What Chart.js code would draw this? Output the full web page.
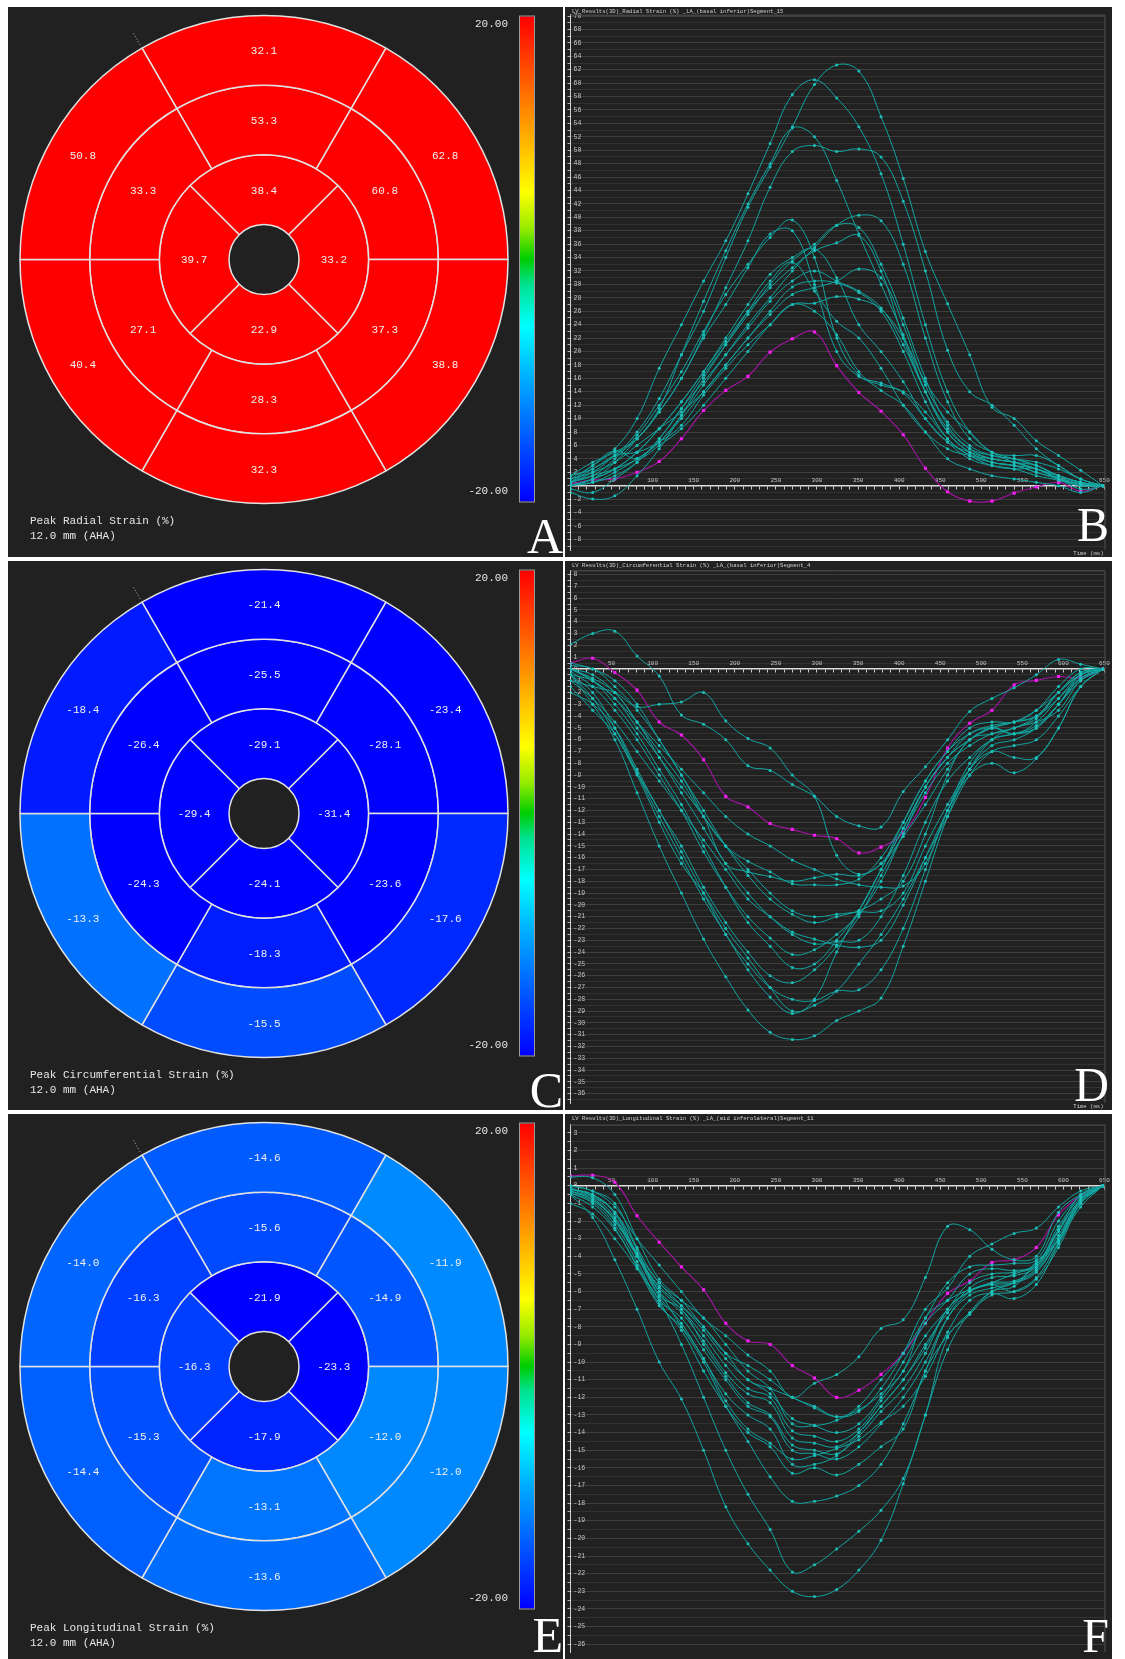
<!doctype html>
<html lang="en">
<head>
<meta charset="utf-8">
<title>Peak strain bullseyes and strain curves</title>
<script src="https://cdn.jsdelivr.net/npm/chart.js@4.4.1/dist/chart.umd.min.js"></script>
<style>
  html, body { margin: 0; padding: 0; background: #ffffff; }
  body { position: relative; width: 1125px; height: 1659px; overflow: hidden; }
  .panel { position: absolute; background: #212121; overflow: hidden; }
  .panel canvas { position: absolute; left: 0; top: 0; }
</style>
</head>
<body>
<div class="panel" style="left:8px; top:7px; width:555px; height:550px;"><canvas id="bullA" width="555" height="550"></canvas></div>
<div class="panel" style="left:565px; top:7px; width:547px; height:550px;"><canvas id="lineB" width="547" height="550"></canvas></div>
<div class="panel" style="left:8px; top:561px; width:555px; height:549px;"><canvas id="bullC" width="555" height="549"></canvas></div>
<div class="panel" style="left:565px; top:561px; width:547px; height:549px;"><canvas id="lineD" width="547" height="549"></canvas></div>
<div class="panel" style="left:8px; top:1114px; width:555px; height:545px;"><canvas id="bullE" width="555" height="545"></canvas></div>
<div class="panel" style="left:565px; top:1114px; width:547px; height:545px;"><canvas id="lineF" width="547" height="545"></canvas></div>

<script>
// bullseye segments: outer/mid rings go top, upper right, lower right, bottom, lower left, upper left
// apical ring goes top, right, bottom, left
var radialBasal = [32.1, 62.8, 38.8, 32.3, 40.4, 50.8];
var radialMid = [53.3, 60.8, 37.3, 28.3, 27.1, 33.3];
var radialApical = [38.4, 33.2, 22.9, 39.7];

var circBasal = [-21.4, -23.4, -17.6, -15.5, -13.3, -18.4];
var circMid = [-25.5, -28.1, -23.6, -18.3, -24.3, -26.4];
var circApical = [-29.1, -31.4, -24.1, -29.4];

var longBasal = [-14.6, -11.9, -12.0, -13.6, -14.4, -14.0];
var longMid = [-15.6, -14.9, -12.0, -13.1, -15.3, -16.3];
var longApical = [-21.9, -23.3, -17.9, -16.3];

var colorbarTicks = [20, -20];

// frame times (ms)
var times = [0, 27, 54, 81, 108, 135, 162, 189, 216, 243, 270, 297, 324, 351, 378, 405, 432, 459, 486, 513, 540, 567, 594, 621, 648];

var radialTeal = [
  [1.0, 3.0, 5.5, 10.0, 17.5, 24.0, 30.5, 36.5, 43.5, 51.0, 58.3, 60.5, 57.8, 53.5, 46.5, 36.0, 24.0, 14.0, 8.0, 5.0, 3.5, 2.5, 1.5, 0.5, 0],
  [0.5, 2.5, 4.5, 8.0, 13.0, 19.5, 26.0, 34.0, 41.5, 47.5, 53.5, 59.8, 62.7, 61.8, 55.0, 45.8, 34.9, 27.1, 19.5, 11.7, 10.0, 6.7, 4.5, 2.3, 0],
  [0.5, 2.0, 4.5, 7.0, 11.5, 19.5, 27.5, 35.0, 42.0, 48.0, 53.3, 52.0, 45.5, 37.5, 30.0, 22.5, 14.0, 8.0, 5.0, 3.5, 3.0, 2.5, 1.2, 0.3, 0],
  [1.5, 3.5, 5.0, 7.0, 11.0, 16.0, 22.5, 29.5, 36.5, 44.5, 49.8, 50.7, 49.8, 50.2, 49.0, 42.4, 32.0, 20.2, 14.0, 12.0, 9.0, 5.5, 3.0, 1.0, 0],
  [0.5, 1.5, 4.0, 7.5, 12.0, 17.0, 23.0, 28.5, 33.0, 37.0, 39.6, 34.0, 22.0, 16.5, 15.0, 14.0, 11.0, 7.0, 4.5, 3.5, 3.0, 2.0, 1.0, 0.3, 0],
  [0.0, 1.0, 3.5, 7.0, 11.0, 16.0, 22.0, 27.0, 32.5, 37.5, 38.0, 30.0, 20.0, 16.3, 15.3, 13.8, 10.0, 6.5, 4.0, 3.0, 2.5, 1.5, 0.8, 0.0, 0],
  [0.0, 0.5, 2.0, 4.0, 6.5, 10.5, 15.0, 19.5, 24.0, 28.0, 32.0, 35.5, 38.8, 40.3, 39.5, 33.0, 22.0, 12.5, 7.0, 5.0, 4.0, 3.0, 1.5, 0.5, 0],
  [-0.5, -1.0, 1.0, 3.5, 7.0, 11.5, 16.5, 21.0, 25.5, 30.0, 33.5, 36.0, 38.8, 38.5, 33.0, 25.0, 16.0, 9.0, 5.5, 4.0, 3.5, 2.5, 1.0, 0.2, 0],
  [0.0, 1.0, 2.5, 5.0, 8.5, 12.5, 17.0, 21.5, 26.0, 29.5, 32.5, 35.0, 36.2, 37.3, 32.0, 22.0, 14.0, 8.0, 5.0, 3.5, 3.0, 2.0, 1.0, -0.5, 0],
  [-1.0, -2.0, -1.5, 1.5, 5.5, 10.5, 16.0, 21.0, 26.0, 30.5, 33.3, 29.0, 24.5, 22.0, 17.5, 12.0, 8.0, 5.5, 4.5, 4.0, 3.5, 3.0, 1.5, 0.5, 0],
  [0.5, 1.5, 2.5, 4.0, 6.5, 10.0, 14.0, 18.0, 22.0, 25.5, 28.5, 29.5, 30.5, 32.3, 31.0, 24.0, 15.0, 9.5, 6.0, 4.5, 4.0, 3.0, 1.5, 0.5, 0],
  [0.0, 0.5, 1.5, 3.5, 7.0, 11.5, 15.5, 19.5, 23.5, 27.5, 30.5, 32.0, 30.5, 29.0, 26.5, 21.0, 14.0, 8.5, 5.5, 4.5, 4.0, 3.5, 2.5, 1.0, 0],
  [1.5, 2.5, 4.5, 5.0, 6.5, 9.0, 13.5, 17.5, 21.0, 24.0, 27.0, 27.2, 28.2, 27.8, 26.3, 22.0, 15.5, 11.0, 8.0, 5.0, 4.5, 4.5, 3.0, 1.0, 0],
  [0.5, 3.0, 5.2, 4.0, 6.0, 8.5, 12.0, 16.0, 20.0, 24.0, 27.0, 26.0, 22.5, 17.0, 14.2, 12.0, 8.0, 4.0, 2.5, 1.5, 1.0, 0.5, 0.0, -1.0, 0],
  [0.0, 1.0, 2.5, 5.0, 8.5, 12.5, 17.0, 22.0, 27.0, 31.5, 34.0, 35.3, 31.0, 24.0, 20.0, 15.5, 10.0, 6.5, 5.0, 4.0, 3.5, 2.5, 1.5, 0.5, 0],
  [1.0, 2.0, 3.5, 6.0, 8.5, 11.0, 14.0, 18.0, 22.0, 26.0, 29.6, 30.5, 30.2, 28.8, 26.0, 20.0, 12.5, 7.0, 4.5, 3.0, 2.5, 2.5, 1.0, 0.0, 0]
];
var radialMagenta = [0.3, 0.85, 1.0, 2.0, 3.6, 7.0, 11.2, 14.2, 16.3, 19.9, 21.9, 22.9, 17.9, 13.9, 11.1, 7.6, 2.6, -0.9, -2.3, -2.3, -1.1, -0.2, 0.5, -0.8, 0];

var circTeal = [
  [2.1, 3.0, 3.2, 1.1, -0.6, -3.9, -4.7, -6.0, -8.2, -8.6, -9.8, -10.8, -12.5, -13.3, -13.4, -10.4, -8.3, -6.0, -3.6, -2.5, -1.6, -0.5, 0.8, 0.4, 0],
  [-1.0, -1.5, -2.0, -3.2, -3.0, -2.8, -2.0, -4.4, -5.9, -6.7, -9.0, -10.8, -15.8, -17.4, -16.5, -14.2, -11.5, -8.5, -6.0, -5.0, -4.5, -3.5, -2.0, -0.5, 0],
  [0.3, 0.0, -1.5, -3.5, -6.0, -9.0, -12.5, -16.5, -17.2, -17.6, -18.0, -17.7, -17.4, -17.5, -16.5, -13.5, -10.0, -7.5, -6.0, -5.0, -4.5, -4.0, -2.5, -0.8, 0],
  [0.0, -0.8, -2.0, -4.5, -7.0, -9.5, -12.5, -15.0, -16.3, -17.2, -18.2, -18.3, -18.3, -17.8, -16.0, -13.0, -9.5, -7.0, -5.5, -5.0, -5.5, -4.5, -2.5, -0.5, 0],
  [-0.5, -1.0, -2.5, -4.5, -6.5, -8.5, -10.5, -12.5, -14.0, -15.0, -16.2, -17.0, -17.8, -18.3, -18.5, -18.4, -16.5, -12.0, -9.0, -8.0, -8.8, -7.6, -5.0, -1.5, 0],
  [0.0, -1.0, -2.5, -5.0, -7.5, -10.0, -12.5, -15.0, -17.0, -19.0, -20.5, -21.0, -20.8, -20.6, -20.5, -19.0, -15.0, -11.5, -8.5, -7.0, -7.5, -7.5, -5.0, -1.5, 0],
  [0.5, 0.0, -1.0, -3.0, -6.0, -9.0, -12.0, -15.0, -17.5, -19.5, -20.8, -21.5, -21.0, -20.5, -19.5, -18.0, -14.0, -9.0, -6.0, -5.5, -5.0, -4.0, -2.0, -0.5, 0],
  [0.0, -0.5, -2.0, -4.5, -7.5, -10.5, -13.5, -16.5, -19.0, -21.0, -22.5, -23.3, -23.1, -23.0, -21.0, -17.5, -13.0, -9.5, -7.5, -6.0, -5.5, -5.0, -3.0, -0.8, 0],
  [-1.0, -2.5, -4.5, -7.0, -9.5, -12.0, -14.5, -17.0, -19.5, -21.0, -22.3, -22.9, -23.4, -23.6, -23.0, -20.0, -16.0, -12.0, -8.5, -6.5, -6.0, -5.0, -3.0, -0.5, 0],
  [-0.2, -1.5, -3.5, -6.0, -9.0, -12.0, -15.5, -18.5, -21.0, -22.8, -24.2, -23.8, -22.5, -20.8, -18.0, -14.0, -10.5, -8.0, -6.5, -5.5, -5.0, -4.2, -2.0, -0.3, 0],
  [0.0, -1.0, -3.0, -5.5, -8.5, -11.5, -15.0, -18.5, -21.5, -23.5, -25.3, -25.0, -23.0, -20.5, -17.0, -13.0, -9.5, -7.0, -5.0, -4.5, -4.5, -3.5, -1.5, 0.0, 0],
  [-2.0, -3.0, -5.0, -8.5, -12.0, -15.0, -18.5, -21.5, -24.0, -26.0, -26.6, -25.5, -23.5, -21.0, -17.5, -14.0, -10.0, -7.5, -6.0, -5.0, -5.5, -5.0, -3.0, -0.8, 0],
  [-1.5, -3.5, -5.5, -8.8, -12.0, -15.5, -19.0, -22.5, -25.0, -27.0, -28.0, -28.1, -27.3, -27.2, -25.5, -22.0, -17.0, -12.0, -8.0, -6.0, -5.5, -4.8, -3.0, -1.0, 0],
  [-0.5, -2.0, -5.0, -8.8, -12.5, -16.0, -19.5, -22.5, -25.5, -27.8, -29.2, -28.0, -24.0, -20.5, -17.0, -13.5, -10.0, -7.5, -5.5, -4.8, -4.5, -4.0, -2.0, -0.3, 0],
  [-0.5, -2.5, -5.5, -9.0, -13.0, -16.5, -19.0, -22.0, -24.5, -27.0, -29.0, -28.5, -27.3, -25.0, -22.5, -19.5, -16.0, -12.5, -9.0, -7.0, -6.5, -6.0, -4.0, -1.5, 0],
  [-0.5, -3.0, -6.0, -10.5, -15.0, -19.0, -22.9, -26.1, -28.9, -30.8, -31.4, -31.1, -29.8, -29.0, -27.9, -23.5, -18.0, -12.5, -8.5, -6.0, -5.0, -4.5, -3.5, -1.0, 0]
];
var circMagenta = [0.5, 0.9, -0.3, -1.8, -4.5, -5.6, -7.7, -10.8, -11.7, -13.1, -13.6, -14.1, -14.4, -15.6, -15.1, -13.9, -10.9, -6.7, -4.6, -3.5, -1.35, -0.97, -0.64, -0.76, 0];

var longTeal = [
  [-0.5, -1.8, -4.2, -7.0, -10.0, -12.1, -15.0, -18.2, -20.3, -21.8, -23.0, -23.3, -22.9, -21.8, -20.1, -16.9, -13.0, -9.3, -7.2, -6.0, -5.7, -4.3, -3.1, -0.8, 0],
  [-1.0, -1.6, -3.0, -4.7, -6.5, -9.0, -12.0, -15.0, -17.5, -19.5, -21.9, -21.5, -20.6, -19.6, -18.4, -16.6, -13.0, -8.6, -7.3, -6.0, -5.5, -4.5, -3.0, -0.8, 0],
  [-0.3, -0.8, -2.0, -4.0, -6.0, -8.0, -10.0, -12.5, -14.5, -16.5, -17.9, -17.9, -17.6, -17.0, -15.8, -13.5, -10.5, -7.5, -6.0, -5.5, -5.0, -4.5, -2.5, -0.5, 0],
  [0.0, -0.3, -1.2, -3.0, -4.5, -6.0, -7.5, -8.5, -9.6, -10.5, -12.0, -11.2, -10.7, -9.7, -8.1, -7.6, -5.2, -2.3, -2.5, -3.6, -4.2, -4.0, -1.5, -0.5, 0],
  [0.5, 0.45, -0.5, -3.0, -5.3, -6.5, -8.0, -9.5, -10.2, -11.0, -12.0, -12.5, -13.1, -12.8, -11.5, -9.5, -7.0, -5.8, -4.0, -3.3, -2.7, -2.4, -1.2, -0.3, 0],
  [0.0, -0.3, -1.0, -3.5, -5.5, -6.5, -7.5, -9.0, -10.5, -11.5, -13.5, -13.6, -13.3, -12.5, -11.0, -9.5, -7.5, -5.5, -4.6, -4.5, -4.4, -4.2, -2.0, -0.6, 0],
  [-0.2, -0.5, -1.5, -3.8, -5.5, -6.8, -8.2, -9.8, -11.0, -11.8, -13.2, -13.6, -14.0, -13.5, -12.0, -10.0, -7.8, -6.5, -5.0, -4.7, -4.8, -4.5, -2.3, -0.7, 0],
  [-0.1, -0.6, -1.8, -3.9, -5.8, -7.0, -8.5, -10.2, -11.5, -12.0, -13.9, -14.2, -14.5, -13.8, -12.2, -10.5, -8.5, -7.0, -5.5, -5.0, -4.9, -4.4, -2.5, -0.8, 0],
  [-0.3, -0.7, -2.0, -4.0, -6.0, -7.2, -8.8, -10.6, -11.8, -12.3, -14.3, -14.6, -14.8, -14.0, -12.5, -11.0, -9.0, -7.2, -5.8, -5.2, -5.1, -4.6, -2.6, -0.8, 0],
  [-0.2, -0.6, -1.5, -3.6, -6.2, -7.0, -9.0, -10.8, -12.3, -13.0, -14.7, -15.0, -15.2, -14.2, -12.8, -11.5, -9.5, -7.0, -6.0, -5.5, -5.4, -4.7, -2.8, -0.9, 0],
  [-0.4, -0.9, -2.2, -4.3, -6.5, -7.5, -9.3, -11.0, -12.5, -13.1, -15.0, -15.2, -15.5, -14.8, -13.5, -12.0, -10.0, -7.5, -6.2, -5.8, -5.5, -4.8, -3.0, -1.0, 0],
  [-0.3, -0.8, -1.9, -4.0, -6.3, -7.8, -9.8, -11.8, -13.0, -13.8, -15.8, -15.8, -15.3, -14.0, -12.5, -11.0, -9.2, -7.0, -6.0, -5.6, -5.5, -4.9, -3.0, -0.8, 0],
  [-0.5, -1.2, -2.5, -4.5, -6.7, -8.2, -10.5, -12.5, -14.0, -14.8, -16.3, -16.0, -16.4, -15.8, -14.8, -13.8, -10.5, -8.5, -7.2, -6.2, -6.0, -5.2, -3.2, -1.0, 0],
  [-0.2, -0.5, -1.6, -3.9, -5.7, -6.8, -8.0, -9.5, -11.0, -11.5, -12.0, -12.6, -13.1, -12.7, -11.8, -10.5, -7.5, -6.5, -5.9, -5.6, -6.0, -5.3, -3.5, -1.0, 0],
  [-0.4, -1.0, -2.4, -4.6, -6.8, -8.0, -9.8, -12.2, -13.8, -14.6, -15.5, -15.3, -14.9, -14.4, -13.4, -12.5, -10.8, -8.3, -6.5, -6.1, -6.4, -5.6, -3.3, -1.2, 0]
];
var longMagenta = [0.55, 0.6, 0.2, -1.7, -3.2, -4.6, -5.9, -7.8, -8.8, -9.0, -10.2, -10.9, -12.0, -11.6, -10.7, -9.5, -7.8, -6.1, -5.4, -4.35, -4.2, -3.5, -1.65, -0.55, 0];

// colour map of the bullseye, value -> rgb
var cmapStops = [
  [-20, [0, 0, 255]], [-10, [0, 170, 255]], [-5.5, [0, 255, 255]], [-2, [0, 225, 140]],
  [0, [0, 205, 0]], [2.5, [150, 235, 0]], [5.5, [255, 255, 0]], [12, [255, 140, 0]], [20, [255, 0, 0]]
];

function strainColor(v) {
  v = Math.max(-20, Math.min(20, v));
  for (var i = 1; i < cmapStops.length; i++) {
    var a = cmapStops[i - 1], b = cmapStops[i];
    if (v <= b[0]) {
      var f = (v - a[0]) / (b[0] - a[0]);
      var c = a[1].map(function (x, k) { return Math.round(x + (b[1][k] - x) * f); });
      return 'rgb(' + c.join(',') + ')';
    }
  }
  return 'rgb(255,0,0)';
}

var monoFont = '"Liberation Mono", "DejaVu Sans Mono", monospace';
var serifFont = '"Liberation Serif", "DejaVu Serif", serif';

// values, colour bar, caption and panel letter
var bullseyeDeco = {
  id: 'bullseyeDeco',
  afterDraw: function (chart, args, opts) {
    var ctx = chart.ctx;
    ctx.save();
    ctx.font = '11px ' + monoFont;
    ctx.fillStyle = '#f0f0f0';
    ctx.textAlign = 'center';
    ctx.textBaseline = 'middle';
    chart.data.datasets.forEach(function (ds, i) {
      chart.getDatasetMeta(i).data.forEach(function (arc, j) {
        var p = arc.tooltipPosition();
        ctx.fillText(ds.values[j].toFixed(1), p.x, p.y + 1);
      });
    });

    // little dotted marker outside the ring
    var arc0 = chart.getDatasetMeta(0).data[0];
    var a = -Math.PI * 2 / 3;
    ctx.strokeStyle = '#bdbdbd';
    ctx.lineWidth = 1;
    ctx.setLineDash([1, 2]);
    ctx.beginPath();
    ctx.moveTo(arc0.x + Math.cos(a) * 248, arc0.y + Math.sin(a) * 248);
    ctx.lineTo(arc0.x + Math.cos(a) * 262, arc0.y + Math.sin(a) * 262);
    ctx.stroke();
    ctx.setLineDash([]);

    // colour bar
    var bx = 512, by = 9.5, bw = 14, bh = 485;
    var top = colorbarTicks[0], bottom = colorbarTicks[1];
    var g = ctx.createLinearGradient(0, by, 0, by + bh);
    cmapStops.forEach(function (s) {
      g.addColorStop((top - s[0]) / (top - bottom), 'rgb(' + s[1].join(',') + ')');
    });
    ctx.fillStyle = g;
    ctx.fillRect(bx, by, bw, bh);
    ctx.strokeStyle = '#9a9a9a';
    ctx.strokeRect(bx - 0.5, by - 0.5, bw + 1, bh + 1);

    ctx.fillStyle = '#e6e6e6';
    ctx.font = '11px ' + monoFont;
    ctx.textAlign = 'right';
    ctx.fillText(top.toFixed(2), 500, 17);
    ctx.fillText(bottom.toFixed(2), 500, 484);

    ctx.textAlign = 'left';
    ctx.fillText(opts.caption, 22, 514);
    ctx.fillText('12.0 mm (AHA)', 22, 529.5);

    ctx.font = '50px ' + serifFont;
    ctx.fillStyle = '#ffffff';
    ctx.textAlign = 'right';
    ctx.textBaseline = 'alphabetic';
    ctx.fillText(opts.letter, 555, opts.letterY);
    ctx.restore();
  }
};

function bullseye(id, basal, mid, apical, caption, letter, letterY) {
  var canvas = document.getElementById(id);
  var h = canvas.height;
  function ring(vals, rot) {
    return {
      data: vals.map(function () { return 1; }),
      values: vals,
      backgroundColor: vals.map(strainColor),
      borderColor: '#e2e2e2',
      borderWidth: 1.5,
      rotation: rot
    };
  }
  new Chart(canvas, {
    type: 'doughnut',
    data: { datasets: [ring(basal, -30), ring(mid, -30), ring(apical, -45)] },
    options: {
      responsive: false,
      animation: false,
      events: [],
      cutout: 35,
      layout: { padding: { left: 11.25, top: 7.75, right: 54.25, bottom: h - 497.25 } },
      plugins: {
        legend: { display: false },
        tooltip: { enabled: false },
        bullseyeDeco: { caption: caption, letter: letter, letterY: letterY }
      }
    },
    plugins: [bullseyeDeco]
  });
}

// title, plot frame, time label and panel letter
var curveDeco = {
  id: 'curveDeco',
  afterDraw: function (chart, args, opts) {
    var ctx = chart.ctx, area = chart.chartArea;
    ctx.save();
    ctx.strokeStyle = '#555555';
    ctx.lineWidth = 1;
    ctx.beginPath();
    ctx.moveTo(area.left, area.top + 0.5);
    ctx.lineTo(area.right + 0.5, area.top + 0.5);
    ctx.lineTo(area.right + 0.5, area.bottom);
    ctx.stroke();

    ctx.fillStyle = '#d0d0d0';
    ctx.font = '5.6px ' + monoFont;
    ctx.textAlign = 'left';
    ctx.textBaseline = 'middle';
    ctx.fillText(opts.title, 7, 5);

    if (opts.timeLabel) {
      ctx.textAlign = 'right';
      ctx.fillText('Time (ms)', area.right - 1, chart.height - 3);
    }

    ctx.font = '48px ' + serifFont;
    ctx.fillStyle = '#ffffff';
    ctx.textAlign = 'right';
    ctx.textBaseline = 'alphabetic';
    ctx.fillText(opts.letter, 544, opts.letterY);
    ctx.restore();
  }
};

function strainCurves(id, o) {
  function onLabel(v) {
    var q = v / o.labelStep;
    return Math.abs(q - Math.round(q)) < 1e-6;
  }
  var datasets = o.teal.map(function (vals) {
    return {
      data: vals.map(function (v, i) { return { x: times[i], y: v }; }),
      borderColor: 'rgb(18,165,160)',
      borderWidth: 1,
      pointRadius: 1.5,
      pointBackgroundColor: 'rgb(30,190,184)',
      pointBorderWidth: 0,
      tension: 0.4
    };
  });
  datasets.push({
    data: o.magenta.map(function (v, i) { return { x: times[i], y: v }; }),
    borderColor: 'rgb(165,20,165)',
    borderWidth: 1.1,
    pointRadius: 2.2,
    pointStyle: 'rect',
    pointBackgroundColor: 'rgb(245,30,245)',
    pointBorderWidth: 0,
    tension: 0.4
  });

  new Chart(document.getElementById(id), {
    type: 'line',
    data: { datasets: datasets },
    options: {
      responsive: false,
      animation: false,
      events: [],
      layout: { autoPadding: false, padding: { left: 5.5, right: 7.5, top: o.top, bottom: o.bottom } },
      plugins: {
        legend: { display: false },
        tooltip: { enabled: false },
        curveDeco: { title: o.title, letter: o.letter, letterY: o.letterY, timeLabel: o.timeLabel }
      },
      scales: {
        x: {
          type: 'linear',
          min: 0,
          max: 650,
          position: { y: 0 },
          border: { color: '#dcdcdc', width: 1.5 },
          grid: { drawOnChartArea: false, drawTicks: true, tickLength: 3, tickColor: '#cfcfcf' },
          ticks: {
            stepSize: 10,
            autoSkip: false,
            maxRotation: 0,
            padding: -12,
            color: '#c8c8c8',
            font: { size: 6, family: monoFont },
            callback: function (v) { return (v > 0 && v % 50 === 0) ? String(v) : ''; }
          }
        },
        y: {
          min: o.min,
          max: o.max,
          border: { color: '#cfcfcf', width: 1 },
          grid: {
            color: function (c) { return c.tick && onLabel(c.tick.value) ? '#3e3e3e' : '#323232'; },
            tickLength: 3,
            tickColor: '#b0b0b0'
          },
          ticks: {
            stepSize: o.gridStep,
            includeBounds: false,
            autoSkip: false,
            mirror: true,
            padding: 3,
            color: '#c4c4c4',
            font: { size: 6.5, family: monoFont },
            callback: function (v) { return onLabel(v) ? String(Math.round(v)) : ''; }
          },
          afterFit: function (s) { s.width = 0; }
        }
      }
    },
    plugins: [curveDeco]
  });
}

bullseye('bullA', radialBasal, radialMid, radialApical, 'Peak Radial Strain (%)', 'A', 546);
bullseye('bullC', circBasal, circMid, circApical, 'Peak Circumferential Strain (%)', 'C', 546);
bullseye('bullE', longBasal, longMid, longApical, 'Peak Longitudinal Strain (%)', 'E', 538);

strainCurves('lineB', {
  title: 'LV Results(3D)_Radial Strain (%) _LA_(basal inferior)Segment_15',
  teal: radialTeal, magenta: radialMagenta,
  min: -9.6, max: 70.2, labelStep: 2, gridStep: 1,
  top: 7.7, bottom: 5.4, letter: 'B', letterY: 534, timeLabel: true
});
strainCurves('lineD', {
  title: 'LV Results(3D)_Circumferential Strain (%) _LA_(basal inferior)Segment_4',
  teal: circTeal, magenta: circMagenta,
  min: -36.8, max: 8.35, labelStep: 1, gridStep: 0.5,
  top: 9.4, bottom: 2.3, letter: 'D', letterY: 540, timeLabel: true
});
strainCurves('lineF', {
  title: 'LV Results(3D)_Longitudinal Strain (%) _LA_(mid inferolateral)Segment_11',
  teal: longTeal, magenta: longMagenta,
  min: -26.45, max: 3.47, labelStep: 1, gridStep: 0.5,
  top: 10.6, bottom: 1.8, letter: 'F', letterY: 538, timeLabel: false
});
</script>
</body>
</html>
